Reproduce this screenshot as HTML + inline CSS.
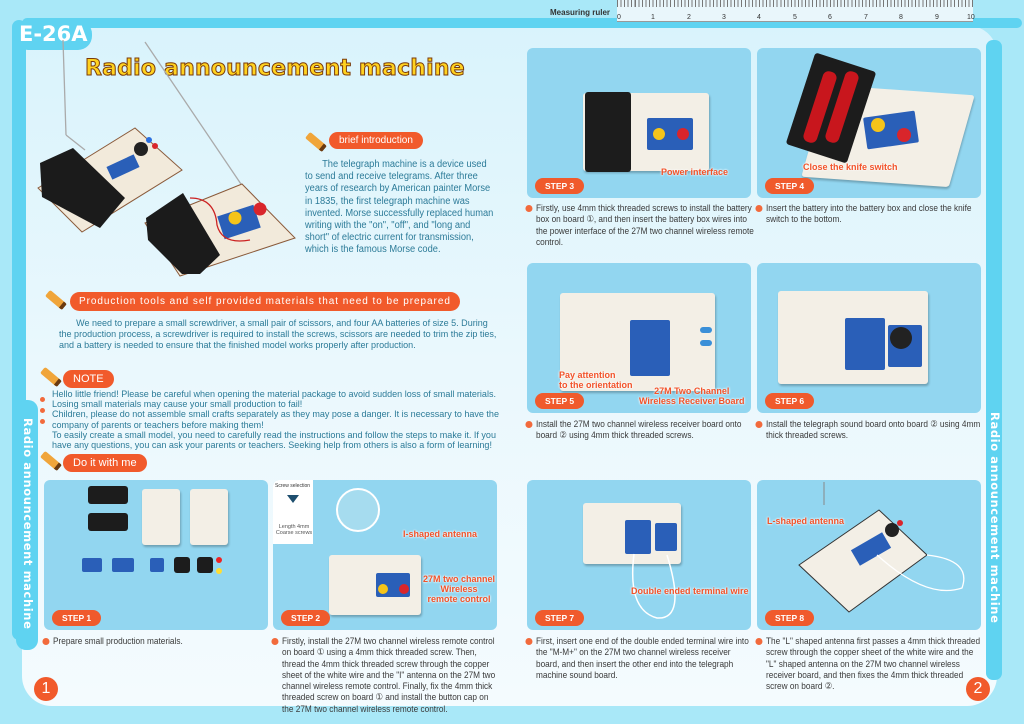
<!DOCTYPE html>
<html><head><meta charset="utf-8"><style>
*{margin:0;padding:0;box-sizing:border-box}
body{width:1024px;height:724px;overflow:hidden;background:#a9e8f8;font-family:"Liberation Sans",sans-serif;position:relative}
.abs{position:absolute}
.page{position:absolute;left:22px;top:26px;width:975px;height:680px;background:linear-gradient(180deg,#d9f3fc 0%,#eaf8fd 50%,#f4fbfe 100%);border-radius:28px 28px 30px 30px}
.panel{position:absolute;background:#92d6f0;border-radius:6px;width:224px;height:150px;overflow:hidden}
.step{position:absolute;left:8px;bottom:4px;background:#f05a2c;color:#fff;font-weight:bold;font-size:8.5px;padding:3px 10px;border-radius:9px}
.cap{position:absolute;font-size:9.4px;line-height:11.3px;color:#3a3a3a;transform:scaleX(0.88);transform-origin:0 0}
.cap b{position:absolute;left:-12px;top:2.5px;width:8px;height:7px;border-radius:50%;background:#f26a3c}
.tag{position:absolute;background:#f15a2b;color:#fff;font-family:"Liberation Sans",sans-serif;font-size:10px;border-radius:10px;padding:3px 10px;white-space:nowrap}
.txt{position:absolute;color:#2c7b98;font-size:9.5px;line-height:12.2px;transform:scaleX(0.95);transform-origin:0 0}
.board{position:absolute;background:#f3efe6;border-radius:3px;box-shadow:1px 2px 2px rgba(0,0,0,.25)}
.pcb{position:absolute;background:#2a5fb8;border-radius:2px}
.lbl{position:absolute;color:#f2532a;font-weight:bold;font-size:9px;text-shadow:0 0 2px #fff,0 0 2px #fff;text-align:center;line-height:10px}
.pen{position:absolute;width:22px;height:8px;background:#f0a53a;transform:rotate(40deg);border-radius:2px;border-right:4px solid #6a3a10}
.bat{position:absolute;background:#1c1c1c;border-radius:3px}
.vt{position:absolute;writing-mode:vertical-rl;color:#fff;font-weight:bold;font-size:11.5px;letter-spacing:0.6px;font-family:'DejaVu Sans',sans-serif}
</style></head><body>
<div class="page"></div>
<div class="abs" style="left:22px;top:18px;width:1000px;height:10px;background:#5fd3f1;border-radius:5px"></div>
<div class="abs" style="left:12px;top:20px;width:14px;height:620px;background:#5fd3f1;border-radius:7px"></div>
<div class="abs" style="left:16px;top:400px;width:22px;height:250px;background:#5fd3f1;border-radius:10px"></div>
<div class="abs" style="left:986px;top:40px;width:16px;height:640px;background:#5fd3f1;border-radius:7px"></div>
<div class="abs" style="left:14px;top:20px;width:78px;height:30px;background:#5fd3f1;border-radius:14px"></div>
<div class="abs" style="left:19px;top:22px;color:#fff;font-weight:bold;font-size:21px;font-family:'DejaVu Sans',sans-serif">E-26A</div>
<div class="abs" style="left:550px;top:8px;font-size:8px;font-weight:bold;color:#333">Measuring ruler</div>
<div class="abs" style="left:617px;top:0;width:356px;height:22px;background:#e9f6fb;border-bottom:1px solid #999;background-image:repeating-linear-gradient(90deg,#777 0 1px,transparent 1px 3.55px);background-size:100% 7px;background-repeat:no-repeat"></div>
<div class="abs" style="left:617px;top:14px;width:370px;font-size:7px;color:#333"><span style="position:absolute;left:0">0</span><span style="position:absolute;left:34px">1</span><span style="position:absolute;left:70px">2</span><span style="position:absolute;left:105px">3</span><span style="position:absolute;left:140px">4</span><span style="position:absolute;left:176px">5</span><span style="position:absolute;left:211px">6</span><span style="position:absolute;left:247px">7</span><span style="position:absolute;left:282px">8</span><span style="position:absolute;left:318px">9</span><span style="position:absolute;left:350px">10</span></div>
<div class="abs" style="left:85px;top:56px;font-family:'DejaVu Sans',sans-serif;font-weight:bold;font-size:22px;color:#ffd21f;-webkit-text-stroke:1px #7a3b0a;letter-spacing:0.2px">Radio announcement machine</div>
<svg class="abs" style="left:0;top:0" width="310" height="290">
<line x1="63" y1="40" x2="66" y2="135" stroke="#aaa" stroke-width="1.3"/><line x1="66" y1="135" x2="85" y2="150" stroke="#aaa" stroke-width="1.3"/>
<line x1="145" y1="42" x2="245" y2="190" stroke="#aaa" stroke-width="1.3"/>
<polygon points="38,188 135,128 182,170 82,232" fill="#f2eadb" stroke="#8a5a3a" stroke-width="1"/>
<polygon points="40,163 73,148 125,198 100,228 42,197" fill="#1b1b1b"/>
<circle cx="141" cy="149" r="7" fill="#222"/><rect x="108" y="160" width="30" height="14" fill="#2a5fb8" transform="rotate(-25 123 167)"/>
<circle cx="149" cy="140" r="3" fill="#2a6fe0"/><circle cx="155" cy="146" r="3" fill="#d9252b"/>
<polygon points="145,223 242,184 295,238 180,276" fill="#f2eadb" stroke="#8a5a3a" stroke-width="1"/>
<polygon points="146,218 183,193 220,255 200,274 182,274 148,240" fill="#1b1b1b"/>
<rect x="220" y="210" width="38" height="24" fill="#2a5fb8" transform="rotate(-18 239 222)"/>
<circle cx="235" cy="218" r="6.5" fill="#f5c41a"/><circle cx="260" cy="209" r="6.5" fill="#d9252b"/>
<path d="M190 198 Q215 198 217 225 Q222 245 250 240" stroke="#c22" fill="none" stroke-width="1.3"/>
</svg>
<div class="pen" style="left:305px;top:138px"></div>
<div class="tag" style="left:329px;top:132px;font-size:10px;letter-spacing:0">brief introduction</div>
<div class="txt" style="left:305px;top:159px;width:202px;text-indent:18px;font-size:9.8px">The telegraph machine is a device used to send and receive telegrams. After three years of research by American painter Morse in 1835, the first telegraph machine was invented. Morse successfully replaced human writing with the "on", "off", and "long and short" of electric current for transmission, which is the famous Morse code.</div>
<div class="pen" style="left:45px;top:296px"></div>
<div class="tag" style="left:70px;top:292px;padding:4px 9px;font-size:10px;letter-spacing:0.95px">Production tools and self provided materials that need to be prepared</div>
<div class="txt" style="left:59px;top:318px;width:466px;text-indent:18px;line-height:11px">We need to prepare a small screwdriver, a small pair of scissors, and four AA batteries of size 5. During the production process, a screwdriver is required to install the screws, scissors are needed to trim the zip ties, and a battery is needed to ensure that the finished model works properly after production.</div>
<div class="pen" style="left:40px;top:373px"></div>
<div class="tag" style="left:63px;top:370px;font-size:11px">NOTE</div>
<div class="abs" style="left:40px;top:397px;width:5px;height:5px;border-radius:50%;background:#f26a3c"></div>
<div class="abs" style="left:40px;top:408px;width:5px;height:5px;border-radius:50%;background:#f26a3c"></div>
<div class="abs" style="left:40px;top:419px;width:5px;height:5px;border-radius:50%;background:#f26a3c"></div>
<div class="txt" style="left:52px;top:390px;width:472px;line-height:10.2px">Hello little friend! Please be careful when opening the material package to avoid sudden loss of small materials. Losing small materials may cause your small production to fail!<br>Children, please do not assemble small crafts separately as they may pose a danger. It is necessary to have the company of parents or teachers before making them!<br>To easily create a small model, you need to carefully read the instructions and follow the steps to make it. If you have any questions, you can ask your parents or teachers. Seeking help from others is also a form of learning!</div>
<div class="pen" style="left:40px;top:457px"></div>
<div class="tag" style="left:63px;top:454px;font-size:11px">Do it with me</div>
<div class="vt" style="left:21px;top:418px">Radio announcement machine</div>
<div class="vt" style="left:988px;top:412px">Radio announcement machine</div>

<div class="panel" style="left:44px;top:480px">
 <div class="bat" style="left:44px;top:6px;width:40px;height:18px"></div>
 <div class="bat" style="left:44px;top:33px;width:40px;height:18px"></div>
 <div class="board" style="left:98px;top:9px;width:38px;height:56px"></div>
 <div class="board" style="left:146px;top:9px;width:38px;height:56px"></div>
 <div class="pcb" style="left:38px;top:78px;width:20px;height:14px"></div>
 <div class="pcb" style="left:68px;top:78px;width:22px;height:14px"></div>
 <div class="pcb" style="left:106px;top:78px;width:14px;height:14px"></div>
 <div class="bat" style="left:130px;top:77px;width:16px;height:16px"></div>
 <div class="bat" style="left:153px;top:77px;width:16px;height:16px"></div>
 <div class="abs" style="left:172px;top:77px;width:6px;height:6px;border-radius:50%;background:#e22"></div>
 <div class="abs" style="left:172px;top:88px;width:6px;height:6px;border-radius:50%;background:#fd3"></div>
 <div class="step">STEP 1</div></div>
<div class="cap" style="left:53px;top:635px;width:244px"><b></b>Prepare small production materials.</div>
<div class="panel" style="left:273px;top:480px">
 <div class="abs" style="left:0;top:0;width:40px;height:64px;background:#fff"></div>
 <div class="abs" style="left:2px;top:3px;font-size:5px;color:#333">Screw selection</div>
 <div class="abs" style="left:14px;top:15px;border-left:6px solid transparent;border-right:6px solid transparent;border-top:8px solid #1d4e6e"></div>
 <div class="abs" style="left:2px;top:44px;font-size:5.5px;color:#555;text-align:center;width:38px">Length 4mm Coarse screws</div>
 <div class="abs" style="left:63px;top:8px;width:44px;height:44px;border-radius:50%;border:2px solid #fff;background:#a6dcef"></div>
 <div class="board" style="left:56px;top:75px;width:92px;height:60px"></div>
 <div class="pcb" style="left:103px;top:93px;width:34px;height:24px"></div>
 <div class="abs" style="left:105px;top:104px;width:10px;height:10px;border-radius:50%;background:#f5c41a"></div>
 <div class="abs" style="left:126px;top:104px;width:10px;height:10px;border-radius:50%;background:#d9252b"></div>
 <div class="lbl" style="left:130px;top:49px">I-shaped antenna</div>
 <div class="lbl" style="left:150px;top:94px">27M two channel<br>Wireless<br>remote control</div>
 <div class="step">STEP 2</div></div>
<div class="cap" style="left:282px;top:635px;width:246px"><b></b>Firstly, install the 27M two channel wireless remote control on board ① using a 4mm thick threaded screw. Then, thread the 4mm thick threaded screw through the copper sheet of the white wire and the "I" antenna on the 27M two channel wireless remote control. Finally, fix the 4mm thick threaded screw on board ① and install the button cap on the 27M two channel wireless remote control.</div>
<div class="panel" style="left:527px;top:48px">
 <div class="board" style="left:56px;top:45px;width:126px;height:78px"></div>
 <div class="bat" style="left:58px;top:44px;width:46px;height:80px"></div>
 <div class="pcb" style="left:120px;top:70px;width:46px;height:32px"></div>
 <div class="abs" style="left:126px;top:80px;width:12px;height:12px;border-radius:50%;background:#f5c41a"></div>
 <div class="abs" style="left:150px;top:80px;width:12px;height:12px;border-radius:50%;background:#d9252b"></div>
 <div class="lbl" style="left:134px;top:119px">Power interface</div>
 <div class="step">STEP 3</div></div>
<div class="cap" style="left:536px;top:202px;width:250px"><b></b>Firstly, use 4mm thick threaded screws to install the battery box on board ①, and then insert the battery box wires into the power interface of the 27M two channel wireless remote control.</div>
<div class="panel" style="left:757px;top:48px">
 <div class="board" style="left:56px;top:42px;width:150px;height:92px;transform:skewX(-12deg) rotate(4deg)"></div>
 <div class="bat" style="left:42px;top:12px;width:64px;height:96px;transform:rotate(18deg)"></div>
 <div class="abs" style="left:56px;top:22px;width:14px;height:74px;background:#c8161d;border-radius:6px;transform:rotate(18deg)"></div>
 <div class="abs" style="left:78px;top:22px;width:14px;height:74px;background:#c8161d;border-radius:6px;transform:rotate(18deg)"></div>
 <div class="pcb" style="left:108px;top:66px;width:52px;height:32px;transform:rotate(-8deg)"></div>
 <div class="abs" style="left:114px;top:70px;width:14px;height:14px;border-radius:50%;background:#f5c41a"></div>
 <div class="abs" style="left:140px;top:80px;width:14px;height:14px;border-radius:50%;background:#d9252b"></div>
 <div class="lbl" style="left:46px;top:114px">Close the knife switch</div>
 <div class="step">STEP 4</div></div>
<div class="cap" style="left:766px;top:202px;width:246px"><b></b>Insert the battery into the battery box and close the knife switch to the bottom.</div>
<div class="panel" style="left:527px;top:263px">
 <div class="board" style="left:33px;top:30px;width:155px;height:98px"></div>
 <div class="pcb" style="left:103px;top:57px;width:40px;height:56px"></div>
 <div class="abs" style="left:173px;top:64px;width:12px;height:6px;border-radius:3px;background:#3a8fd8"></div>
 <div class="abs" style="left:173px;top:77px;width:12px;height:6px;border-radius:3px;background:#3a8fd8"></div>
 <div class="lbl" style="left:32px;top:107px;text-align:left">Pay attention<br>to the orientation</div>
 <div class="lbl" style="left:112px;top:123px">27M Two Channel<br>Wireless Receiver Board</div>
 <div class="step">STEP 5</div></div>
<div class="cap" style="left:536px;top:418px;width:244px"><b></b>Install the 27M two channel wireless receiver board onto board ② using 4mm thick threaded screws.</div>
<div class="panel" style="left:757px;top:263px">
 <div class="board" style="left:21px;top:28px;width:150px;height:93px"></div>
 <div class="pcb" style="left:88px;top:55px;width:40px;height:52px"></div>
 <div class="pcb" style="left:131px;top:62px;width:34px;height:42px"></div>
 <div class="abs" style="left:133px;top:64px;width:22px;height:22px;border-radius:50%;background:#222"></div>
 <div class="step">STEP 6</div></div>
<div class="cap" style="left:766px;top:418px;width:252px"><b></b>Install the telegraph sound board onto board ② using 4mm thick threaded screws.</div>
<div class="panel" style="left:527px;top:480px">
 <div class="board" style="left:56px;top:23px;width:98px;height:61px"></div>
 <div class="pcb" style="left:98px;top:40px;width:26px;height:34px"></div>
 <div class="pcb" style="left:128px;top:43px;width:22px;height:28px"></div>
 <svg class="abs" style="left:0;top:0" width="224" height="150"><path d="M107 74 Q100 130 130 138 Q160 140 140 75" stroke="#fff" fill="none" stroke-width="1.5"/></svg>
 <div class="lbl" style="left:104px;top:106px">Double ended terminal wire</div>
 <div class="step">STEP 7</div></div>
<div class="cap" style="left:536px;top:635px;width:248px"><b></b>First, insert one end of the double ended terminal wire into the "M-M+" on the 27M two channel wireless receiver board, and then insert the other end into the telegraph machine sound board.</div>
<div class="panel" style="left:757px;top:480px">
 <svg class="abs" style="left:0;top:0" width="224" height="150"><polygon points="42,85 122,30 170,75 92,132" fill="#f3efe6" stroke="#333" stroke-width="1"/><rect x="96" y="60" width="36" height="18" fill="#2a5fb8" transform="rotate(-30 114 69)"/><circle cx="135" cy="50" r="7" fill="#222"/><circle cx="143" cy="43" r="3" fill="#d9252b"/><path d="M120 75 Q170 120 205 108 Q215 80 170 75" stroke="#fff" fill="none" stroke-width="1.3"/><line x1="67" y1="2" x2="67" y2="25" stroke="#888"/></svg>
 <div class="lbl" style="left:10px;top:36px">L-shaped antenna</div>
 <div class="step">STEP 8</div></div>
<div class="cap" style="left:766px;top:635px;width:246px"><b></b>The "L" shaped antenna first passes a 4mm thick threaded screw through the copper sheet of the white wire and the "L" shaped antenna on the 27M two channel wireless receiver board, and then fixes the 4mm thick threaded screw on board ②.</div>
<div class="abs" style="left:34px;top:677px;width:24px;height:24px;border-radius:50%;background:#f15a2b;color:#fff;font-size:16px;text-align:center;line-height:24px">1</div>
<div class="abs" style="left:966px;top:677px;width:24px;height:24px;border-radius:50%;background:#f15a2b;color:#fff;font-size:16px;text-align:center;line-height:24px">2</div>
</body></html>
